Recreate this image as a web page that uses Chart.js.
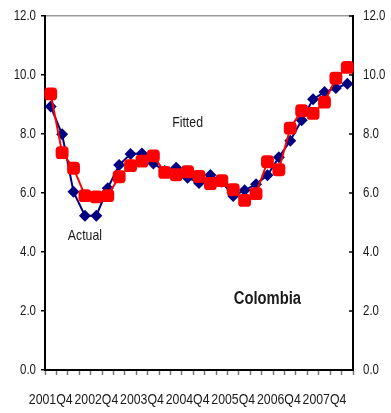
<!DOCTYPE html>
<html>
<head>
<meta charset="utf-8">
<script src="https://cdn.jsdelivr.net/npm/chart.js@4.4.1/dist/chart.umd.min.js"></script>
<style>
  html, body { margin: 0; padding: 0; background: #fff; }
  #wrap { width: 391px; height: 413px; }
</style>
</head>
<body>
<div id="wrap"><canvas id="chart" width="391" height="413"></canvas></div>
<script>
// quarters 2001Q4 .. 2008Q2
const quarters = [
  '2001Q4', '2002Q1', '2002Q2', '2002Q3', '2002Q4', '2003Q1', '2003Q2', '2003Q3', '2003Q4',
  '2004Q1', '2004Q2', '2004Q3', '2004Q4', '2005Q1', '2005Q2', '2005Q3', '2005Q4',
  '2006Q1', '2006Q2', '2006Q3', '2006Q4', '2007Q1', '2007Q2', '2007Q3', '2007Q4',
  '2008Q1', '2008Q2'
];

const actual = [
  8.93, 7.99, 6.04, 5.23, 5.23, 6.16, 6.95, 7.32, 7.34,
  7.00, 6.75, 6.86, 6.52, 6.34, 6.61, 6.38, 5.90,
  6.09, 6.30, 6.60, 7.21, 7.77, 8.47, 9.18, 9.42,
  9.56, 9.70
];

const fitted = [
  9.36, 7.37, 6.84, 5.91, 5.87, 5.91, 6.55, 6.93, 7.08,
  7.26, 6.70, 6.62, 6.72, 6.56, 6.32, 6.42, 6.11,
  5.75, 5.98, 7.06, 6.79, 8.20, 8.79, 8.70, 9.08,
  9.89, 10.26
];

const yTicks = [0, 2, 4, 6, 8, 10, 12];

const FONT = "'Liberation Sans', Arial, sans-serif";
const TEXT = '#1a1a1a';
const NARROW = 0.82;   // horizontal squeeze to get an Arial Narrow look

// free-standing labels placed in data space
const notes = [
  { text: 'Fitted', x: 12, y: 8.37, bold: false, size: 15 },
  { text: 'Actual', x: 3, y: 4.54, bold: false, size: 15 },
  { text: 'Colombia', x: 19.0, y: 2.40, bold: true, size: 18 }
];

function narrowText(ctx, text, x, y, align, font) {
  ctx.save();
  ctx.font = font;
  ctx.textAlign = align;
  ctx.textBaseline = 'middle';
  ctx.translate(x, y);
  ctx.scale(NARROW, 1);
  ctx.fillText(text, 0, 0);
  ctx.restore();
}

const extras = {
  id: 'extras',
  afterDraw(chart) {
    const { ctx, chartArea, scales } = chart;
    ctx.save();
    // short inward ticks on the right axis
    ctx.strokeStyle = '#000';
    ctx.lineWidth = 1.5;
    yTicks.forEach(v => {
      const y = scales.y2.getPixelForValue(v);
      ctx.beginPath();
      ctx.moveTo(chartArea.right - 4, y);
      ctx.lineTo(chartArea.right, y);
      ctx.stroke();
    });
    ctx.fillStyle = TEXT;
    const tickFont = '14px ' + FONT;
    yTicks.forEach(v => {
      const y = scales.y.getPixelForValue(v);
      narrowText(ctx, v.toFixed(1), chartArea.left - 9, y, 'right', tickFont);
      narrowText(ctx, v.toFixed(1), chartArea.right + 10, y, 'left', tickFont);
    });
    quarters.forEach((q, i) => {
      if (i % 4 !== 0) return;
      narrowText(ctx, q, scales.x.getPixelForValue(i), chartArea.bottom + 30, 'center', '15px ' + FONT);
    });
    notes.forEach(n => {
      const font = (n.bold ? 'bold ' : '') + n.size + 'px ' + FONT;
      narrowText(ctx, n.text, scales.x.getPixelForValue(n.x), scales.y.getPixelForValue(n.y), 'center', font);
    });
    ctx.restore();
  }
};

new Chart(document.getElementById('chart'), {
  type: 'line',
  data: {
    labels: quarters,
    datasets: [
      {
        label: 'Fitted',
        data: fitted,
        borderColor: '#ff0000',
        backgroundColor: '#ff0000',
        borderWidth: 2,
        pointStyle: 'rectRounded',
        pointRadius: 7.5,
        pointBorderWidth: 0,
        tension: 0,
        yAxisID: 'y'
      },
      {
        label: 'Actual',
        data: actual,
        borderColor: '#000080',
        backgroundColor: '#000080',
        borderWidth: 2,
        pointStyle: 'rectRot',
        pointRadius: 6,
        pointBorderWidth: 0,
        tension: 0,
        yAxisID: 'y'
      }
    ]
  },
  options: {
    responsive: false,
    animation: false,
    devicePixelRatio: 1,
    layout: { padding: { top: 16, left: 0, right: 0, bottom: 0 } },
    plugins: {
      legend: { display: false },
      tooltip: { enabled: false }
    },
    scales: {
      x: {
        type: 'category',
        offset: true,
        grid: {
          offset: true,
          drawOnChartArea: false,
          tickLength: 5,
          tickColor: '#777',
          tickWidth: 1.5
        },
        border: { color: '#000', width: 2 },
        ticks: { display: false, autoSkip: false, maxRotation: 0 },
        afterFit: s => { s.height = 43; }
      },
      y: {
        position: 'left',
        min: 0,
        max: 12,
        afterBuildTicks: s => { s.ticks = yTicks.map(v => ({ value: v })); },
        grid: {
          drawOnChartArea: true,
          color: c => (c.tick && c.tick.value === 12 ? '#9a9a9a' : 'rgba(0,0,0,0)'),
          lineWidth: 1.5,
          tickLength: 4,
          tickColor: '#000',
          tickWidth: 1.5
        },
        border: { color: '#000', width: 2 },
        ticks: { display: false },
        afterFit: s => { s.width = 45; }
      },
      y2: {
        position: 'right',
        min: 0,
        max: 12,
        afterBuildTicks: s => { s.ticks = yTicks.map(v => ({ value: v })); },
        grid: { drawOnChartArea: false, drawTicks: false },
        border: { color: '#000', width: 2 },
        ticks: { display: false },
        afterFit: s => { s.width = 38; }
      }
    }
  },
  plugins: [extras]
});
</script>
</body>
</html>
